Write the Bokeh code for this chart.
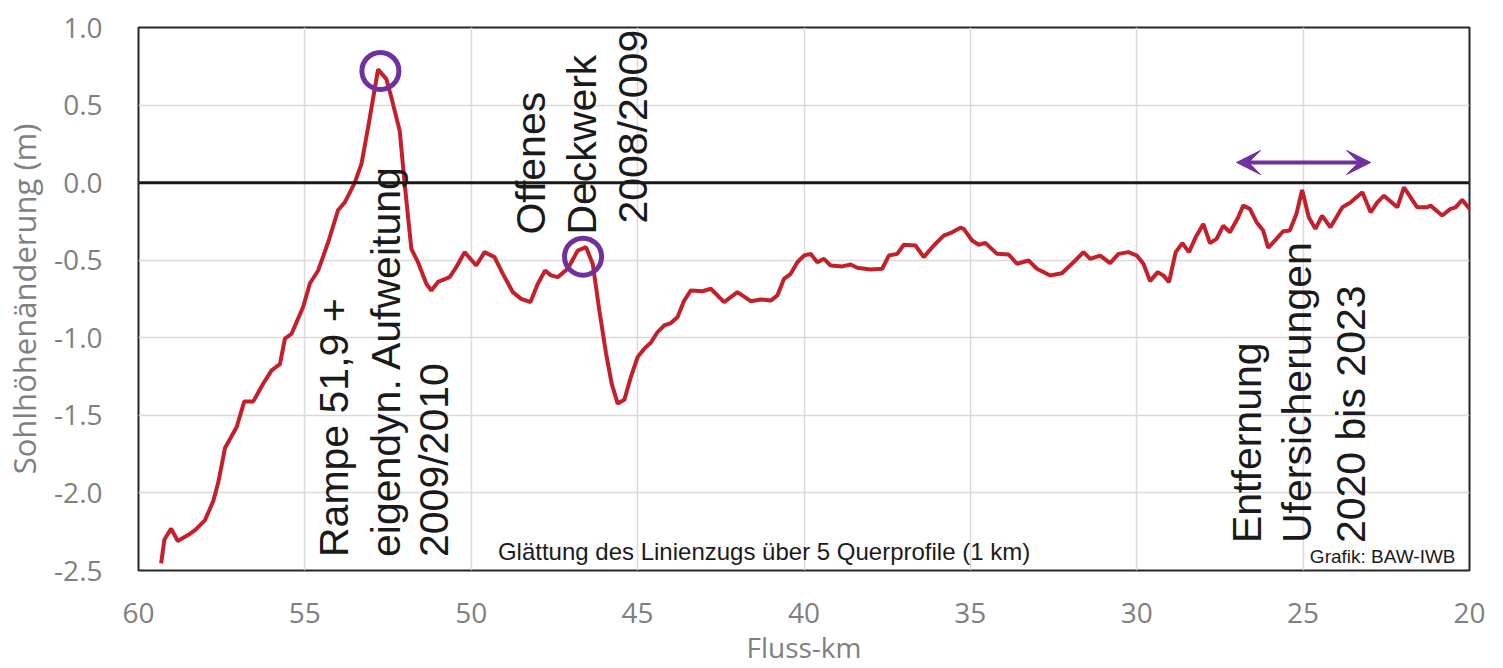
import math
from bokeh.plotting import figure
from bokeh.models import Range1d, FixedTicker, PrintfTickFormatter, Span, Arrow, VeeHead, ColumnDataSource
from bokeh.core.properties import value
from bokeh.embed import file_html
from bokeh.resources import INLINE

# ---- data ----
km = [59.32, 59.22, 59.02, 58.82, 58.50, 58.30, 58.00, 57.75, 57.60, 57.40, 57.05, 56.82, 56.55, 56.25,
      56.00, 55.75, 55.60, 55.40, 55.05, 54.85, 54.60, 54.30, 54.00, 53.80, 53.50, 53.30, 53.10, 52.80,
      52.55, 52.40, 52.15, 52.00, 51.80, 51.60, 51.35, 51.20, 51.00, 50.65, 50.45, 50.20, 49.85, 49.60,
      49.30, 49.05, 48.75, 48.50, 48.22, 48.00, 47.78, 47.60, 47.40, 47.10, 46.80, 46.55, 46.35, 46.15,
      45.95, 45.78, 45.60, 45.40, 45.20, 45.00, 44.80, 44.60, 44.40, 44.20, 44.00, 43.80, 43.60, 43.40,
      43.05, 42.80, 42.40, 42.00, 41.60, 41.30, 41.00, 40.80, 40.60, 40.40, 40.20, 40.00, 39.80, 39.60,
      39.40, 39.20, 38.85, 38.60, 38.40, 38.00, 37.65, 37.45, 37.20, 37.00, 36.65, 36.40, 36.10, 35.80,
      35.55, 35.30, 35.20, 34.95, 34.75, 34.55, 34.20, 33.85, 33.60, 33.25, 33.00, 32.60, 32.25, 31.90,
      31.60, 31.40, 31.10, 30.80, 30.55, 30.25, 30.00, 29.80, 29.60, 29.37, 29.20, 29.03, 28.83, 28.63,
      28.43, 28.23, 28.00, 27.80, 27.60, 27.40, 27.20, 26.95, 26.80, 26.60, 26.40, 26.20, 26.05, 25.80,
      25.60, 25.40, 25.20, 25.03, 24.83, 24.63, 24.43, 24.18, 23.82, 23.57, 23.22, 22.97, 22.77, 22.57,
      22.17, 21.97, 21.57, 21.27, 21.17, 20.82, 20.57, 20.42, 20.22, 19.97]
change = [-2.454, -2.30, -2.23, -2.31, -2.27, -2.24, -2.175, -2.05, -1.93, -1.71, -1.575, -1.41, -1.41, -1.295,
          -1.21, -1.17, -1.006, -0.974, -0.80, -0.65, -0.566, -0.384, -0.176, -0.127, 0.0, 0.12, 0.356, 0.73,
          0.667, 0.549, 0.335, -0.01, -0.427, -0.513, -0.652, -0.695, -0.64, -0.609, -0.545, -0.448, -0.534, -0.448,
          -0.48, -0.588, -0.706, -0.749, -0.77, -0.652, -0.566, -0.598, -0.609, -0.555, -0.438, -0.416, -0.523, -0.824,
          -1.10, -1.295, -1.424, -1.40, -1.25, -1.124, -1.07, -1.03, -0.963, -0.92, -0.905, -0.866, -0.76, -0.695,
          -0.70, -0.684, -0.77, -0.706, -0.764, -0.753, -0.76, -0.727, -0.62, -0.588, -0.513, -0.47, -0.459, -0.513,
          -0.491, -0.534, -0.54, -0.528, -0.549, -0.56, -0.555, -0.47, -0.459, -0.40, -0.405, -0.48, -0.405, -0.341,
          -0.32, -0.29, -0.298, -0.373, -0.40, -0.388, -0.459, -0.463, -0.523, -0.502, -0.555, -0.598, -0.584, -0.513,
          -0.448, -0.491, -0.47, -0.519, -0.459, -0.448, -0.47, -0.523, -0.635, -0.577, -0.598, -0.641, -0.448, -0.39,
          -0.448, -0.352, -0.266, -0.39, -0.362, -0.277, -0.32, -0.223, -0.148, -0.169, -0.255, -0.309, -0.42, -0.362,
          -0.313, -0.309, -0.20, -0.047, -0.223, -0.298, -0.212, -0.288, -0.159, -0.127, -0.062, -0.191, -0.127, -0.084,
          -0.159, -0.030, -0.159, -0.159, -0.148, -0.212, -0.169, -0.159, -0.111, -0.176]

x_ticks = [60, 55, 50, 45, 40, 35, 30, 25, 20]
y_ticks = [1.0, 0.5, 0.0, -0.5, -1.0, -1.5, -2.0, -2.5]

# highlighted points (circles)
mark_km = [52.73, 46.64]
mark_val = [0.72, -0.477]

# arrow (removal of bank protection stretch)
arrow_km = [27.0, 22.97]
arrow_val = 0.13

# vertical annotation texts
note_text = ["Rampe 51,9 +", "eigendyn. Aufweitung", "2009/2010",
             "Offenes", "Deckwerk", "2008/2009",
             "Entfernung", "Ufersicherungen", "2020 bis 2023"]
note_km = [54.11, 52.55, 51.11, 48.2, 46.67, 45.14, 26.70, 25.17, 23.57]
note_val = [-2.413, -2.413, -2.413, -0.335, -0.335, -0.264, -2.323, -2.323, -2.323]

caption_km = 41.2
caption_val = -2.375
credit_km = 20.42
credit_val = -2.41

RED = "#C3202B"
PURPLE = "#7030A0"
GRAY = "#7f7f7f"

p = figure(frame_width=1331, frame_height=543, output_backend="svg", toolbar_location=None,
           x_range=Range1d(60, 20), y_range=Range1d(-2.5, 1.0),
           min_border_left=137, min_border_top=27, min_border_right=22, min_border_bottom=96)
p.background_fill_color = "white"
p.outline_line_color = "#262626"
p.outline_line_width = 2

for ax in (p.xaxis, p.yaxis):
    ax.axis_line_color = None
    ax.major_tick_line_color = None
    ax.minor_tick_line_color = None
    ax.major_label_text_color = GRAY
    ax.major_label_text_font = "Open Sans"
    ax.major_label_text_font_size = "28px"
    ax.axis_label_text_color = GRAY
    ax.axis_label_text_font = "Open Sans"
    ax.axis_label_text_font_style = "normal"

p.xaxis.ticker = FixedTicker(ticks=x_ticks)
p.yaxis.ticker = FixedTicker(ticks=y_ticks)
p.yaxis.formatter = PrintfTickFormatter(format="%.1f")
p.xaxis.formatter = PrintfTickFormatter(format="%d")
p.xaxis.major_label_standoff = 26
p.yaxis.major_label_standoff = 30
p.xaxis.axis_label = "Fluss-km"
p.xaxis.axis_label_text_font_size = "28px"
p.xaxis.axis_label_standoff = 2
p.yaxis.axis_label = "Sohlhöhenänderung (m)"
p.yaxis.axis_label_text_font_size = "31px"
p.yaxis.axis_label_standoff = 6

p.xgrid.grid_line_color = "#d9d9d9"
p.ygrid.grid_line_color = "#d9d9d9"
p.xgrid.grid_line_width = 1.5
p.ygrid.grid_line_width = 1.5

p.add_layout(Span(location=0, dimension="width", line_color="#1a1a1a", line_width=3))

p.line(km, change, line_color=RED, line_width=4)

p.scatter(mark_km, mark_val, marker="circle", size=37, fill_color=None,
          line_color=PURPLE, line_width=5)

p.add_layout(Arrow(start=VeeHead(size=24, fill_color=PURPLE, line_color=PURPLE),
                   end=VeeHead(size=24, fill_color=PURPLE, line_color=PURPLE),
                   x_start=arrow_km[0], x_end=arrow_km[1], y_start=arrow_val, y_end=arrow_val,
                   line_color=PURPLE, line_width=4))

src = ColumnDataSource(dict(x=note_km, y=note_val, t=note_text))
p.text(x="x", y="y", text="t", source=src, angle=math.pi / 2, text_align="left",
       text_baseline="middle", text_font=value("Liberation Sans"), text_font_size="41px",
       text_color="#1a1a1a")

p.text(x=[caption_km], y=[caption_val], text=["Glättung des Linienzugs über 5 Querprofile (1 km)"],
       text_align="center", text_baseline="middle", text_font=value("Liberation Sans"),
       text_font_size="24px", text_color="#1a1a1a")
p.text(x=[credit_km], y=[credit_val], text=["Grafik: BAW-IWB"], text_align="right",
       text_baseline="middle", text_font=value("Liberation Sans"),
       text_font_size="19px", text_color="#1a1a1a")

open("out.html", "w").write(file_html(p, INLINE))
